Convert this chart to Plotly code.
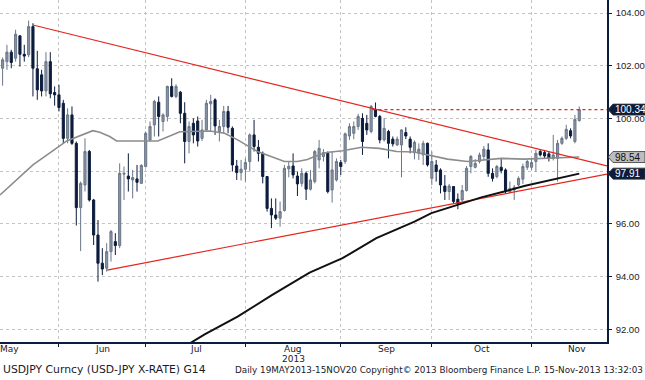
import plotly.graph_objects as go

# ---------------- data ----------------
opens = [101.91,102.16,102.52,102.29,103.14,102.44,102.42,103.49,101.89,101.66,
         101.05,102.16,100.99,100.90,100.58,99.25,100.14,99.06,96.62,97.48,
         98.75,96.91,95.58,94.51,94.32,94.95,95.33,95.18,97.89,97.82,
         97.67,97.71,97.54,98.18,99.19,99.76,100.62,99.89,100.08,101.22,
         100.84,101.00,100.20,99.13,99.82,99.91,99.25,99.57,100.56,100.71,
         99.51,99.70,100.27,99.63,98.20,97.95,98.08,98.37,99.38,98.91,
         98.68,97.80,96.59,96.34,96.22,96.51,98.09,98.20,97.82,97.54,
         97.92,97.32,97.61,98.43,98.56,98.68,97.29,97.67,98.33,98.37,
         99.34,99.44,99.70,100.01,99.82,99.51,100.33,100.08,99.19,99.51,
         99.22,99.00,99.00,99.47,99.22,98.70,98.68,98.62,99.06,97.73,
         98.24,98.05,97.44,97.23,97.42,96.94,96.91,97.27,98.18,98.15,
         98.37,98.56,98.81,97.92,97.80,98.15,98.05,97.23,97.29,97.48,
         97.70,98.15,98.15,98.37,98.75,98.71,98.66,98.49,98.49,99.06,
         99.25,99.54,99.13,99.92]
highs = [102.32,102.80,102.61,103.37,103.16,102.80,103.72,103.62,102.57,101.85,
         102.52,102.52,101.22,101.28,100.71,100.39,100.46,99.13,97.61,99.25,
         98.81,96.95,96.15,95.08,95.27,95.77,95.65,98.30,98.18,98.68,
         98.05,98.24,98.27,99.51,99.89,100.71,100.84,100.20,101.25,101.53,
         101.30,101.05,100.62,99.89,100.01,100.08,99.95,100.71,100.90,100.77,
         99.95,100.48,100.48,99.70,98.43,98.43,98.49,99.44,99.95,99.19,
         98.75,97.82,96.97,96.97,96.85,98.24,98.37,98.68,97.99,98.11,
         97.99,98.05,98.81,99.19,98.84,98.75,98.75,98.49,98.43,99.47,
         99.82,99.89,100.18,100.20,100.14,100.52,100.61,100.14,100.01,99.57,
         99.32,99.32,99.59,99.67,99.32,99.17,99.06,99.16,99.09,98.75,
         98.43,98.11,97.86,97.52,97.44,97.16,97.48,98.20,98.62,98.46,
         98.71,98.96,99.06,98.11,98.24,98.49,98.11,97.61,97.48,97.80,
         98.29,98.43,98.49,98.81,98.84,98.81,98.75,99.38,99.19,99.32,
         99.76,99.63,100.14,100.46]
lows = [101.25,101.85,101.91,102.16,101.97,102.16,102.33,100.84,100.71,100.84,
        100.84,100.77,100.49,100.27,99.06,99.06,99.00,95.94,94.97,97.23,
        96.85,95.20,93.81,94.06,94.19,94.57,94.82,95.08,96.91,97.23,
        96.97,97.23,97.54,98.14,99.13,99.32,99.32,99.51,99.89,100.80,
        100.77,99.82,98.30,98.68,99.06,98.94,99.15,99.51,99.51,99.38,
        99.13,99.44,99.44,97.99,97.67,97.65,97.61,97.99,98.75,98.37,
        97.54,96.47,95.84,96.15,95.90,96.47,97.77,97.73,97.06,97.42,
        96.91,97.27,97.54,98.11,98.37,97.16,96.81,97.61,97.86,98.28,
        99.19,99.22,99.57,98.62,99.38,99.44,100.05,99.06,99.13,98.49,
        98.94,98.96,97.77,99.22,98.68,98.45,98.43,98.24,98.18,97.48,
        97.61,97.16,96.91,96.91,96.76,96.56,96.85,97.23,97.92,98.11,
        98.30,98.43,97.79,97.61,97.73,97.92,97.16,97.16,96.91,97.44,
        97.52,98.05,98.05,97.99,98.56,98.49,98.37,98.41,97.61,99.00,
        99.19,99.25,99.06,99.89]
closes = [102.23,102.52,102.13,103.20,102.44,102.37,103.49,101.91,101.09,101.05,
          102.16,100.94,100.90,100.42,99.25,100.14,99.06,96.62,97.54,98.75,
          96.91,95.58,94.51,94.29,94.95,95.71,95.18,97.92,97.92,97.71,
          97.76,97.58,98.22,99.44,99.70,100.65,100.08,100.14,101.22,100.84,
          101.22,100.20,99.13,99.70,99.38,99.15,99.57,100.58,100.65,99.72,
          99.70,100.27,99.67,98.24,97.95,98.08,98.33,99.38,98.94,98.68,
          97.80,96.59,96.34,96.22,96.47,98.11,98.19,97.86,97.52,97.92,
          97.32,97.67,98.75,98.87,98.71,97.23,98.05,98.37,98.18,99.42,
          99.70,99.70,100.08,99.13,99.57,100.46,100.08,99.19,99.63,99.06,
          99.04,99.22,99.57,99.34,98.91,99.10,98.84,99.06,98.24,98.37,
          97.99,97.48,97.23,97.44,96.85,96.78,97.27,98.11,98.56,98.30,
          98.62,98.84,97.92,97.73,98.18,98.03,97.23,97.35,97.39,97.73,
          98.18,98.37,98.33,98.68,98.62,98.58,98.49,98.62,99.06,99.25,
          99.59,99.34,99.97,100.34]

# 50-day moving average (grey), sampled along the bar index
ma50_idx = [-0.6, 7.0, 14.8, 20.8, 22.4, 24.7, 26.3, 35.8, 40.9, 47.8, 51.2, 54.2,
            58.8, 62.1, 65.0, 68.0, 70.3, 71.9, 74.7, 78.4, 82.8, 86.9, 90.9, 95.0,
            99.6, 102.6, 107.2, 110.4, 115.0, 120.3, 133]
ma50_val = [97.10, 98.24, 99.15, 99.54, 99.48, 99.32, 99.15, 99.15, 99.50, 99.53,
            99.44, 99.19, 98.75, 98.56, 98.37, 98.37, 98.45, 98.56, 98.71, 98.78,
            98.91, 98.87, 98.75, 98.73, 98.56, 98.46, 98.37, 98.43, 98.49, 98.46, 98.54]
# 200-day moving average (black)
ma200_idx = [40, 46.6, 54.2, 62.1, 70.8, 78.4, 86.2, 95.0, 98.9, 104.9, 110.4, 115.7, 120.3, 133]
ma200_val = [91.15, 91.81, 92.48, 93.30, 94.15, 94.70, 95.46, 96.09, 96.41, 96.72,
             97.01, 97.23, 97.44, 97.91]

# trend lines (red)
upper_idx = [7.0, 139.4]
upper_val = [103.55, 98.20]
lower_idx = [24.1, 139.4]
lower_val = [94.25, 97.89]
level_start_idx = 85.3

months = ["May", "Jun", "Jul", "Aug", "Sep", "Oct", "Nov"]
month_days = [23, 20, 23, 22, 21, 23, 21]
first_jun_idx = 13
year_label = "2013"
y_ticks = [92, 94, 96, 98, 100, 102, 104]

footer_left = "USDJPY Curncy (USD-JPY X-RATE) G14"
footer_right = "Daily 19MAY2013-15NOV20 Copyright\u00a9 2013 Bloomberg Finance L.P. 15-Nov-2013 13:32:03"

# ---------------- figure ----------------
N = len(opens)
xs = list(range(N))
XMIN, XMAX = -0.6, 139.4
YMIN, YMAX = 91.52, 104.50

NAVY = "#0c1c3c"
UPFILL = "#8894a4"
UPLINE = "#6a7687"
RED = "#e3271e"
GRID = "#c4c4c4"
FONT = "DejaVu Sans"
NUMFONT = "Liberation Sans"
TXT = "#1a1a2a"

fig = go.Figure()
fig.add_trace(go.Scatter(x=ma50_idx, y=ma50_val, mode="lines",
                         line=dict(color="#8c8c8c", width=1.6), hoverinfo="skip"))
fig.add_trace(go.Scatter(x=lower_idx, y=lower_val, mode="lines",
                         line=dict(color=RED, width=1.2), hoverinfo="skip"))
fig.add_trace(go.Scatter(x=upper_idx, y=upper_val, mode="lines",
                         line=dict(color=RED, width=1.2), hoverinfo="skip"))
fig.add_trace(go.Scatter(x=[level_start_idx, XMAX], y=[closes[-1], closes[-1]], mode="lines",
                         line=dict(color=RED, width=1.2, dash="dot"), hoverinfo="skip"))
fig.add_trace(go.Candlestick(x=xs, open=opens, high=highs, low=lows, close=closes,
                             increasing=dict(fillcolor=UPFILL, line=dict(color=UPLINE, width=1)),
                             decreasing=dict(fillcolor=NAVY, line=dict(color=NAVY, width=1)),
                             whiskerwidth=0))
fig.add_trace(go.Scatter(x=ma200_idx, y=ma200_val, mode="lines",
                         line=dict(color="#111111", width=2), hoverinfo="skip"))

# month boundaries and label centres
starts = [first_jun_idx - month_days[0]]
for d in month_days[:-1]:
    starts.append(starts[-1] + d)
bounds = starts[1:]
centres = [s + d / 2 for s, d in zip(starts, month_days)]

fig.update_layout(
    width=645, height=380,
    margin=dict(l=0, r=38, t=0, b=38),
    paper_bgcolor="white", plot_bgcolor="white",
    showlegend=False,
    font=dict(family=FONT, size=10, color=TXT),
    xaxis=dict(range=[XMIN, XMAX], rangeslider=dict(visible=False),
               tickvals=bounds, ticktext=[""] * len(bounds),
               showgrid=True, gridcolor=GRID, griddash="dot", gridwidth=1,
               ticks="outside", ticklen=3, tickcolor=NAVY,
               showline=True, linecolor=NAVY, linewidth=1.5, zeroline=False,
               mirror=False),
    yaxis=dict(range=[YMIN, YMAX], side="right", tickvals=y_ticks,
               tickformat=".2f", ticks="outside", ticklen=3, tickcolor=NAVY,
               ticklabelstandoff=2,
               showgrid=True, gridcolor=GRID, griddash="dot", gridwidth=1,
               showline=True, linecolor=NAVY, linewidth=1.5, zeroline=False,
               tickfont=dict(family=NUMFONT, size=9.5, color=TXT)),
)

ann = []
for m, c in zip(months, centres):
    ann.append(dict(x=c, y=0, xref="x", yref="paper", yshift=-7, text=m, showarrow=False,
                    font=dict(family=FONT, size=9), xanchor="center", yanchor="middle"))
ann.append(dict(x=centres[3], y=0, xref="x", yref="paper", yshift=-16.5, text=year_label,
                showarrow=False, font=dict(family=FONT, size=9), xanchor="center", yanchor="middle"))
ann.append(dict(x=0, y=0, xref="paper", yref="paper", xshift=1, yshift=-27.5, text=footer_left,
                showarrow=False, font=dict(family=FONT, size=10.8), xanchor="left", yanchor="middle"))
ann.append(dict(x=1, y=0, xref="paper", yref="paper", xshift=38, yshift=-27.5, text=footer_right,
                showarrow=False, font=dict(family=FONT, size=8.8), xanchor="right", yanchor="middle"))

# value badges on the right axis
badges = [(closes[-1], NAVY, "white"), (ma50_val[-1], "#bdbdbd", "#111111"), (ma200_val[-1], NAVY, "white")]
shapes = []
for v, bg, fg in badges:
    yp = (v - YMIN) / (YMAX - YMIN)
    shapes.append(dict(type="path", xref="paper", yref="paper", xsizemode="pixel", ysizemode="pixel",
                       xanchor=1, yanchor=yp,
                       path="M1,0 L6,-5.5 L38,-5.5 L38,5.5 L6,5.5 Z",
                       fillcolor=bg, line=dict(color="#333333", width=0.8), layer="above"))
    ann.append(dict(x=1, y=yp, xref="paper", yref="paper", xshift=7, text=f"{v:.2f}",
                    showarrow=False, font=dict(family=NUMFONT, size=10, color=fg),
                    xanchor="left", yanchor="middle", borderpad=0))

fig.update_layout(annotations=ann, shapes=shapes)
fig.write_html("out.html", config={"displayModeBar": False},
               post_script="document.body.style.margin='0';document.body.style.padding='0';")
